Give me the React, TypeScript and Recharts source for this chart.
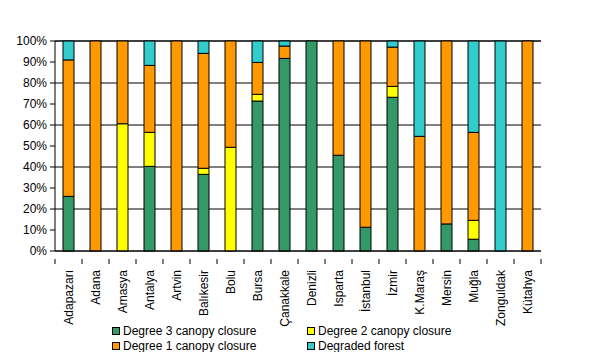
import { Bar, BarChart, CartesianGrid, XAxis, YAxis } from 'recharts'

const provinces = [
  'Adapazarı', 'Adana', 'Amasya', 'Antalya', 'Artvin', 'Balıkesir', 'Bolu', 'Bursa', 'Çanakkale',
  'Denizli', 'Isparta', 'İstanbul', 'İzmir', 'K.Maraş', 'Mersin', 'Muğla', 'Zonguldak', 'Kütahya',
]
const degree3 = [26, 0, 0, 40.3, 0, 36.5, 0, 71.4, 91.7, 100, 45.6, 11.3, 73.2, 0, 12.9, 5.6, 0, 0]
const degree2 = [0, 0, 60.6, 16.2, 0, 2.9, 49.4, 3.2, 0, 0, 0, 0, 5.2, 0, 0, 9, 0, 0]
const degree1 = [65, 100, 39.4, 31.9, 100, 54.7, 50.6, 15.2, 5.9, 0, 54.4, 88.7, 18.7, 54.6, 87.1, 41.9, 0, 100]
const degraded = [9, 0, 0, 11.6, 0, 5.9, 0, 10.2, 2.4, 0, 0, 0, 2.9, 45.4, 0, 43.5, 100, 0]
const yTicks = [0, 10, 20, 30, 40, 50, 60, 70, 80, 90, 100]

const series = [
  { key: 'd3', name: 'Degree 3 canopy closure', color: '#339966' },
  { key: 'd2', name: 'Degree 2 canopy closure', color: '#FFFF00' },
  { key: 'd1', name: 'Degree 1 canopy closure', color: '#FF9900' },
  { key: 'dg', name: 'Degraded forest', color: '#33CCCC' },
]

const data = provinces.map((name, i) => ({
  name,
  d3: degree3[i],
  d2: degree2[i],
  d1: degree1[i],
  dg: degraded[i],
}))

const font = '"Liberation Sans", Arial, sans-serif'
const half = 13.5

function XTick(props: any) {
  const { x, y, payload, index } = props
  return (
    <g>
      <line x1={x - half} y1={y} x2={x - half} y2={y + 5} stroke="#000" />
      {index === provinces.length - 1 && (
        <line x1={x + half} y1={y} x2={x + half} y2={y + 5} stroke="#000" />
      )}
      <text
        x={0}
        y={0}
        transform={`translate(${x + 4},${y + 11}) rotate(-90)`}
        textAnchor="end"
        fontSize={12}
        fontFamily={font}
        fill="#000"
      >
        {payload.value}
      </text>
    </g>
  )
}

export default function App() {
  return (
    <div style={{ position: 'relative', width: 616, height: 360, margin: -8, background: '#fff' }}>
      <BarChart
        width={616}
        height={360}
        data={data}
        barSize={11}
        margin={{ top: 41, right: 75, left: 0, bottom: 0 }}
      >
        <CartesianGrid vertical={false} stroke="#000" />
        <XAxis
          dataKey="name"
          interval={0}
          height={109}
          tickLine={false}
          axisLine={{ stroke: '#000' }}
          tick={<XTick />}
        />
        <XAxis
          xAxisId="t"
          dataKey="name"
          orientation="top"
          height={0}
          tick={false}
          tickLine={false}
          axisLine={{ stroke: '#808080' }}
        />
        <YAxis
          width={55}
          domain={[0, 100]}
          ticks={yTicks}
          tickFormatter={(v) => `${v}%`}
          tickSize={5}
          tickMargin={3}
          tickLine={{ stroke: '#000' }}
          axisLine={{ stroke: '#000' }}
          tick={{ fontSize: 12, fontFamily: font, fill: '#000' }}
        />
        <YAxis
          yAxisId="r"
          orientation="right"
          width={0}
          domain={[0, 100]}
          tick={false}
          tickLine={false}
          axisLine={{ stroke: '#808080' }}
        />
        {series.map((s) => (
          <Bar
            key={s.key}
            dataKey={s.key}
            name={s.name}
            stackId="a"
            fill={s.color}
            stroke="#000"
            strokeWidth={1}
            isAnimationActive={false}
          />
        ))}
      </BarChart>
      <div
        style={{
          position: 'absolute',
          left: 112,
          top: 324,
          display: 'grid',
          gridTemplateColumns: '195px 200px',
          rowGap: 1,
          fontFamily: font,
          fontSize: 12,
          lineHeight: '14px',
          color: '#000',
        }}
      >
        {series.map((s) => (
          <div key={s.key} style={{ display: 'flex', alignItems: 'center', height: 14, whiteSpace: 'nowrap' }}>
            <span
              style={{
                width: 6,
                height: 6,
                background: s.color,
                border: '1px solid #000',
                marginRight: 3,
              }}
            />
            {s.name}
          </div>
        ))}
      </div>
    </div>
  )
}
